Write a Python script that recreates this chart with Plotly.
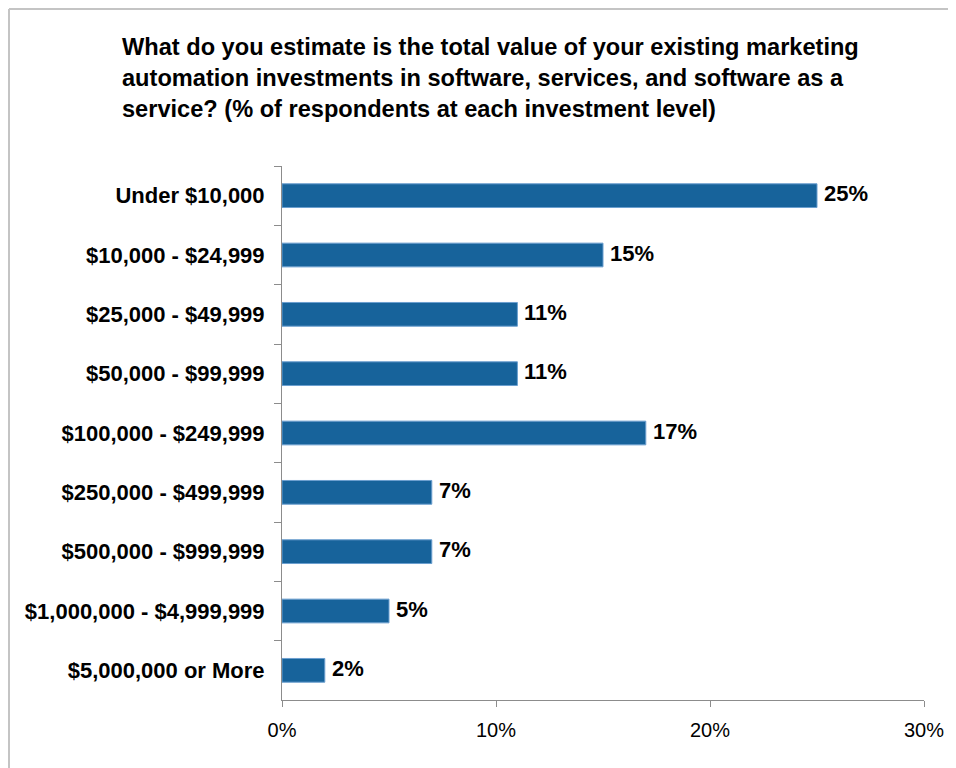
import plotly.graph_objects as go

categories = ["Under $10,000", "$10,000 - $24,999", "$25,000 - $49,999", "$50,000 - $99,999",
              "$100,000 - $249,999", "$250,000 - $499,999", "$500,000 - $999,999",
              "$1,000,000 - $4,999,999", "$5,000,000 or More"]
values = [25, 15, 11, 11, 17, 7, 7, 5, 2]
labels = [f"{v}%" for v in values]
x_ticks = [0, 10, 20, 30]
x_tick_labels = ["0%", "10%", "20%", "30%"]
title_lines = ["What do you estimate is the total value of your existing marketing",
               "automation investments in software, services, and software as a",
               "service? (% of respondents at each investment level)"]

# the page body has an 8px margin; figure coordinates are offset by it
W, H = 948, 760
L, R, T, B = 274, 32, 158, 68
pw = W - L - R
ph = H - T - B
FONT = "Liberation Sans, Arial"

fig = go.Figure(go.Bar(
    x=values, y=categories, orientation="h",
    marker=dict(color="#17639b", line=dict(color="#6b9fcf", width=1)),
    hoverinfo="skip",
))

annotations = []
for i, line in enumerate(title_lines):
    yc = 39 + i * 31
    annotations.append(dict(
        text=f"<b>{line}</b>", showarrow=False, xref="paper", yref="paper",
        x=(112 - L) / pw, y=1 + (T - yc) / ph, xanchor="left", yanchor="middle",
        font=dict(family=FONT, size=23.6, color="#000000"),
    ))
for c, v, t in zip(categories, values, labels):
    annotations.append(dict(
        text=f"<b>{t}</b>", x=v, y=c, xref="x", yref="y", showarrow=False,
        xanchor="left", yanchor="middle", xshift=5, yshift=2,
        font=dict(family=FONT, size=22, color="#000000"),
    ))

shapes = [
    dict(type="line", xref="paper", yref="paper",
         x0=-(L - 1) / pw, x1=-(L - 1) / pw, y0=1 + (T - 1) / ph, y1=-B / ph,
         line=dict(color="#c4c4c4", width=2)),
    dict(type="line", xref="paper", yref="paper",
         x0=-(L - 1) / pw, x1=1 + R / pw, y0=1 + (T - 1) / ph, y1=1 + (T - 1) / ph,
         line=dict(color="#c4c4c4", width=2)),
]

fig.update_layout(
    width=W, height=H,
    margin=dict(l=L, r=R, t=T, b=B, pad=0),
    paper_bgcolor="white", plot_bgcolor="white",
    showlegend=False,
    bargap=0.6,
    annotations=annotations,
    shapes=shapes,
    font=dict(family=FONT, color="#000000"),
)
fig.update_xaxes(
    range=[0, 30], tickvals=x_ticks, ticktext=x_tick_labels,
    showgrid=False, zeroline=False, showline=True, linecolor="#8c8c8c", linewidth=1,
    ticks="outside", ticklen=6, tickcolor="#8c8c8c", ticklabelstandoff=6,
    tickfont=dict(size=20, color="#000000"),
)
fig.update_yaxes(
    categoryorder="array", categoryarray=categories, autorange="reversed",
    showgrid=False, zeroline=False, showline=True, linecolor="#8c8c8c", linewidth=1,
    ticks="outside", ticklen=7, tickcolor="#8c8c8c", tickson="boundaries",
    ticklabelstandoff=12,
    tickfont=dict(size=22, color="#000000", weight="bold"),
)

fig.write_html("out.html")
